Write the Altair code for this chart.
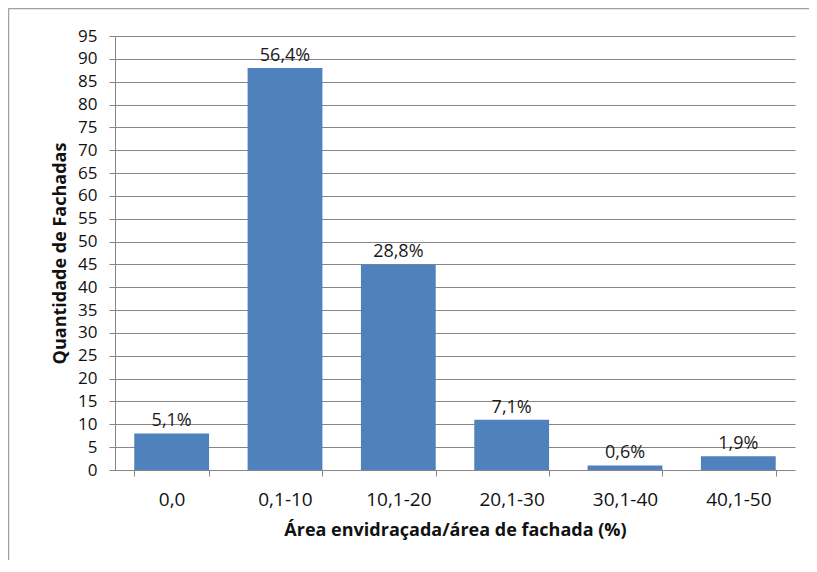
import altair as alt
import pandas as pd

categories = ["0,0", "0,1-10", "10,1-20", "20,1-30", "30,1-40", "40,1-50"]
counts = [8, 88, 45, 11, 1, 3]
pct_labels = ["5,1%", "56,4%", "28,8%", "7,1%", "0,6%", "1,9%"]

df = pd.DataFrame({"cat": categories, "n": counts, "lab": pct_labels})

FONT = "Open Sans"
GRAY = "#868686"

x = alt.X("cat:N", sort=categories,
          scale=alt.Scale(paddingInner=0.34, paddingOuter=0.17),
          axis=alt.Axis(title="Área envidraçada/área de fachada (%)", labelAngle=0,
                        tickBand="extent", tickSize=6, tickColor=GRAY, domainColor=GRAY,
                        labelFontSize=19, labelPadding=14, titlePadding=12, grid=False))
y = alt.Y("n:Q", scale=alt.Scale(domain=[0, 95], nice=False),
          axis=alt.Axis(title="Quantidade de Fachadas", values=list(range(0, 100, 5)),
                        tickSize=6, tickColor=GRAY, domainColor=GRAY, gridColor=GRAY,
                        labelFontSize=17, labelOverlap=False, labelPadding=12,
                        titlePadding=8, grid=True))

base = alt.Chart(df).encode(x=x, y=y)
bars = base.mark_bar(color="#4F81BD")
text = base.mark_text(baseline="bottom", dy=-3, fontSize=18, font=FONT,
                      color="#1a1a1a").encode(text="lab:N")

border_df = pd.DataFrame({"k": [0]})
left_border = alt.Chart(border_df).mark_rule(color="#a0a0a0", strokeWidth=1.5).encode(
    x=alt.value(-106.5), y=alt.value(-27.5), y2=alt.value(560))
top_border = alt.Chart(border_df).mark_rule(color="#a0a0a0", strokeWidth=1.5).encode(
    x=alt.value(-106.5), x2=alt.value(720), y=alt.value(-27.5))

chart = alt.layer(bars, text, left_border, top_border).properties(
    width=680, height=434,
    autosize=alt.AutoSizeParams(type="none"),
    padding={"left": 107, "top": 28, "right": 14, "bottom": 90},
).configure_view(stroke=None).configure_axis(
    labelFont=FONT, titleFont=FONT, titleFontSize=18,
    labelColor="#111111", titleColor="#111111", titleFontWeight="bold",
)

chart.save("out.html", embed_options={"renderer": "svg", "actions": False})
